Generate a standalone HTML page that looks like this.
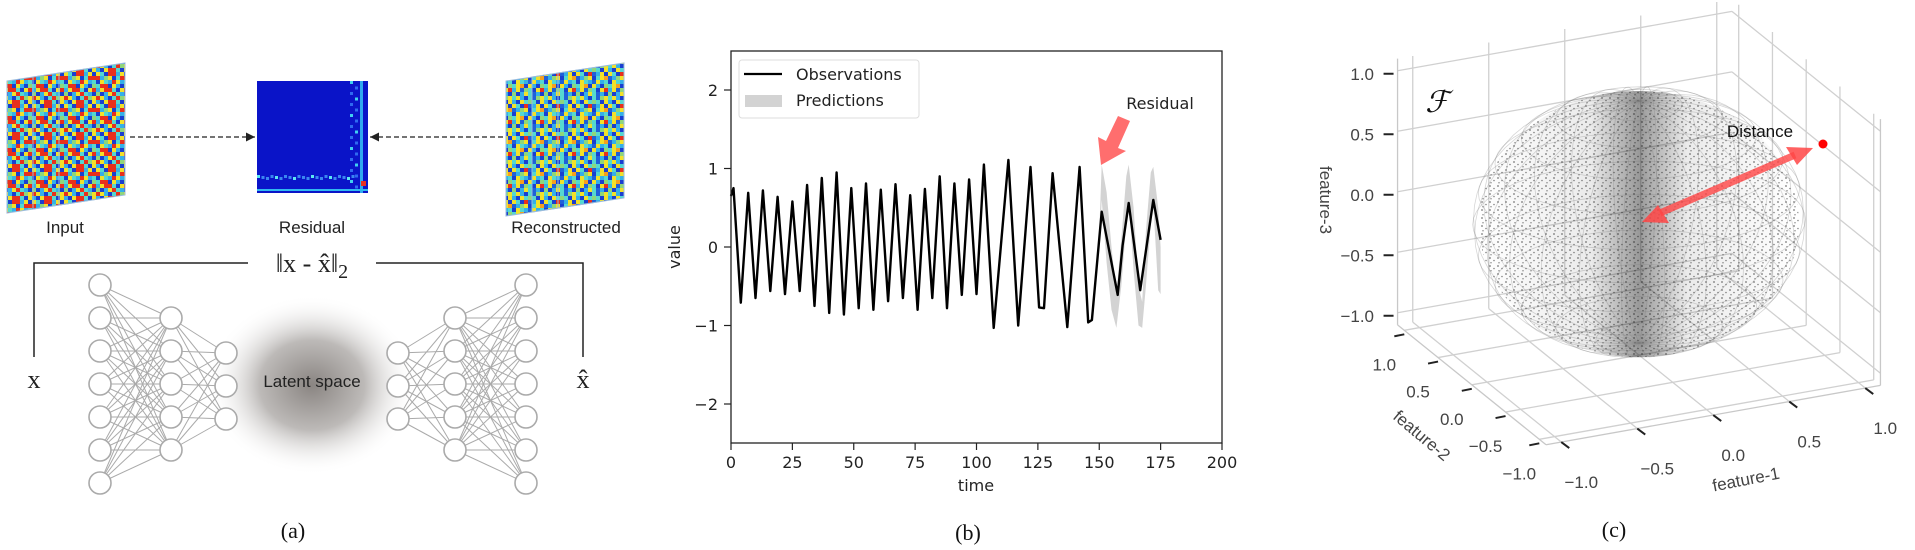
<!DOCTYPE html>
<html><head><meta charset="utf-8">
<style>
html,body{margin:0;padding:0;background:#fff;}
svg{display:block;}
text{font-family:"Liberation Sans","DejaVu Sans",sans-serif;}
.ser{font-family:"Liberation Serif","DejaVu Serif",serif;}
.mpl{font-family:"DejaVu Sans","Liberation Sans",sans-serif;}
</style></head>
<body>
<svg id="fig" width="1915" height="550" viewBox="0 0 1915 550" xmlns="http://www.w3.org/2000/svg">
<defs>
  <pattern id="jetA" width="32" height="32" patternUnits="userSpaceOnUse"><g id="jetAg"></g></pattern>
  <pattern id="jetB" width="32" height="32" patternUnits="userSpaceOnUse"><g id="jetBg"></g></pattern>
  <pattern id="resP" x="257" y="81" width="111" height="112" patternUnits="userSpaceOnUse"><g id="resPg"></g></pattern>
  <pattern id="dots" width="8" height="8" patternUnits="userSpaceOnUse">
    <circle cx="2" cy="2" r="0.9" fill="#222"/><circle cx="6" cy="4.5" r="0.8" fill="#333"/><circle cx="3" cy="6.8" r="0.7" fill="#222"/>
  </pattern>
  <radialGradient id="latentG" cx="50%" cy="50%" r="50%">
    <stop offset="0" stop-color="#8a8582"/><stop offset="0.5" stop-color="#bdbab8"/><stop offset="1" stop-color="#ffffff" stop-opacity="0"/>
  </radialGradient>
  <linearGradient id="bandG" x1="0" x2="1" y1="0" y2="0">
    <stop offset="0" stop-color="#000" stop-opacity="0"/>
    <stop offset="0.35" stop-color="#000" stop-opacity="0.08"/>
    <stop offset="0.5" stop-color="#000" stop-opacity="0.4"/>
    <stop offset="0.65" stop-color="#000" stop-opacity="0.08"/>
    <stop offset="1" stop-color="#000" stop-opacity="0"/>
  </linearGradient>
  <marker id="ah" viewBox="0 0 10 10" refX="10" refY="5" markerWidth="7" markerHeight="7" orient="auto"><path d="M0,0 L10,5 L0,10 z" fill="#222"/></marker>
</defs>

<!-- ================= PANEL A ================= -->
<g id="panelA">
  <g id="inputStack"></g>
  <rect x="257" y="81" width="111" height="112" fill="url(#resP)"/>
  <g id="reconStack"></g>
  <line x1="130" y1="137" x2="255" y2="137" stroke="#222" stroke-width="1.3" stroke-dasharray="5,3" marker-end="url(#ah)"/>
  <line x1="503" y1="137" x2="370" y2="137" stroke="#222" stroke-width="1.3" stroke-dasharray="5,3" marker-end="url(#ah)"/>
  <text x="65" y="233" font-size="17" text-anchor="middle" fill="#222">Input</text>
  <text x="312" y="233" font-size="17" text-anchor="middle" fill="#222">Residual</text>
  <text x="566" y="233" font-size="17" text-anchor="middle" fill="#222">Reconstructed</text>
  <path d="M34,357 L34,263 L248,263 M376,263 L583,263 L583,357" fill="none" stroke="#222" stroke-width="1.5"/>
  <text x="312" y="272" class="ser" font-size="26" text-anchor="middle" fill="#222">‖x - x̂‖<tspan font-size="20" dy="6">2</tspan></text>
  <text x="34" y="388" class="ser" font-size="26" text-anchor="middle" fill="#222">x</text>
  <text x="583" y="388" class="ser" font-size="26" text-anchor="middle" fill="#222">x̂</text>
  <ellipse cx="312" cy="385" rx="105" ry="90" fill="url(#latentG)"/>
  <g id="net"></g>
  <text x="312" y="387" font-size="17" text-anchor="middle" fill="#222">Latent space</text>
  <text x="293" y="538" class="ser" font-size="22" text-anchor="middle" fill="#111">(a)</text>
</g>

<!-- ================= PANEL B ================= -->
<g id="panelB">
  <g id="bBand"></g>
  <g id="bLine"></g>
  <rect x="731" y="51" width="491" height="392" fill="none" stroke="#222" stroke-width="1.3"/>
  <g id="bTicks"></g>
  <text x="0" y="0" transform="translate(680,247) rotate(-90)" class="mpl" font-size="16" text-anchor="middle" fill="#222">value</text>
  <text x="976" y="491" class="mpl" font-size="16" text-anchor="middle" fill="#222">time</text>
  <g>
    <rect x="739" y="60" width="180" height="58" rx="3" fill="#fff" fill-opacity="0.85" stroke="#ddd"/>
    <line x1="744" y1="74" x2="782" y2="74" stroke="#000" stroke-width="2.2"/>
    <text x="796" y="80" class="mpl" font-size="16" fill="#222">Observations</text>
    <rect x="745" y="95" width="37" height="12" fill="#d3d3d3"/>
    <text x="796" y="106" class="mpl" font-size="16" fill="#222">Predictions</text>
  </g>
  <text x="1160" y="109" class="mpl" font-size="16" text-anchor="middle" fill="#222">Residual</text>
  <path d="M1130,121 L1118,148 L1126,151 L1101,165 L1098,137 L1106,141 L1118,116 Z" fill="#ff5555" fill-opacity="0.85"/>
  <text x="968" y="540" class="ser" font-size="22" text-anchor="middle" fill="#111">(b)</text>
</g>

<!-- ================= PANEL C ================= -->
<g id="panelC">
  <g id="cGrid"></g>
  <ellipse cx="1639" cy="224" rx="160" ry="133" fill="url(#dots)" fill-opacity="0.6"/>
  <ellipse cx="1639" cy="224" rx="160" ry="133" fill="url(#bandG)"/>
  <g id="cSphere"></g>
  <g id="cTicks"></g>
  <text x="0" y="0" transform="translate(1320,200) rotate(90)" font-size="17" text-anchor="middle" fill="#444">feature-3</text>
  <text x="0" y="0" transform="translate(1418,440) rotate(40)" font-size="17" text-anchor="middle" fill="#444">feature-2</text>
  <text x="0" y="0" transform="translate(1747,485) rotate(-11)" font-size="17" text-anchor="middle" fill="#444">feature-1</text>
  <text x="1437" y="112" class="ser" font-size="30" font-style="italic" text-anchor="middle" fill="#111">ℱ</text>
  <text x="1760" y="137" font-size="17" text-anchor="middle" fill="#111">Distance</text>
  <g>
    <line x1="1660" y1="213" x2="1795" y2="155" stroke="#ff4545" stroke-opacity="0.8" stroke-width="7"/>
    <path d="M1813,148 L1786,147 L1797,165 Z" fill="#ff4545" fill-opacity="0.85"/>
    <path d="M1642,222 L1669,223 L1658,205 Z" fill="#ff4545" fill-opacity="0.85"/>
  </g>
  <circle cx="1823" cy="144" r="4.5" fill="#ff0000"/>
  <text x="1614" y="537" class="ser" font-size="22" text-anchor="middle" fill="#111">(c)</text>
</g>
</svg>

<script>
// ---------- Panel B data ----------
var obsTime = [0,1,4,7,10,13,16,19,22,25,28,31,34,37,40,43,46,49,52,55,58,61,64,67,70,73,76,79,82,85,88,91,94,97,100,103,107,113,117,122,125.5,127.5,131,137,142,145.5,147,151,157.5,159.5,162,166.7,172,175];
var obsValue = [0.65,0.75,-0.71,0.69,-0.65,0.72,-0.56,0.64,-0.6,0.58,-0.56,0.79,-0.75,0.88,-0.84,0.95,-0.86,0.75,-0.78,0.81,-0.8,0.73,-0.69,0.80,-0.65,0.66,-0.8,0.74,-0.65,0.90,-0.78,0.81,-0.61,0.86,-0.6,1.05,-1.03,1.11,-1.0,1.02,-0.77,-0.78,0.94,-1.02,1.02,-0.96,-0.93,0.45,-0.61,0.02,0.56,-0.55,0.6,0.09];
var predTime = [150,151,153,155,157,159,161,162,164,166,167.5,169,171,172,174,175];
var predUpper = [0.2,1.05,0.7,0.0,-0.6,0.1,0.9,1.05,0.5,-0.5,-0.7,0.2,0.95,1.02,0.5,0.0];
var predLower = [-0.1,0.6,-0.2,-0.8,-1.03,-0.5,0.3,0.6,-0.3,-1.0,-1.03,-0.5,0.3,0.55,-0.55,-0.6];
var xTicks = [0,25,50,75,100,125,150,175,200];
var yTicks = [-2,-1,0,1,2];
var yTickLabels = ["\u22122","\u22121","0","1","2"];
// ---------- Panel C tick data ----------
var f1Ticks = [-1,-0.5,0,0.5,1];
var f1Labels = ["\u22121.0","\u22120.5","0.0","0.5","1.0"];
var f2Ticks = [1,0.5,0,-0.5,-1];
var f2Labels = ["1.0","0.5","0.0","\u22120.5","\u22121.0"];
var f3Ticks = [1,0.5,0,-0.5,-1];
var f3Labels = ["1.0","0.5","0.0","\u22120.5","\u22121.0"];

var NS = "http://www.w3.org/2000/svg";
function mk(tag, attrs, parent){
  var e = document.createElementNS(NS, tag);
  for (var k in attrs) e.setAttribute(k, attrs[k]);
  parent.appendChild(e);
  return e;
}

function xS(t){ return 731 + (t - 0) / 200 * 491; }
function yS(v){ return 247 - v * 78.5; }

(function(){
  var band = document.getElementById('bBand');
  var d = "";
  for (var i=0;i<predTime.length;i++) d += (i?"L":"M") + xS(predTime[i]).toFixed(1) + "," + yS(predUpper[i]).toFixed(1);
  for (var j=predTime.length-1;j>=0;j--) d += "L" + xS(predTime[j]).toFixed(1) + "," + yS(predLower[j]).toFixed(1);
  d += "Z";
  var p = mk('path', {d:d, fill:'#d3d3d3'}, band);
  
  

  var pts = [];
  for (var k=0;k<obsTime.length;k++) pts.push(xS(obsTime[k]).toFixed(1)+","+yS(obsValue[k]).toFixed(1));
  var l = mk('polyline', {points:pts.join(" "), fill:'none', stroke:'#000', 'stroke-width':2.4, 'stroke-linejoin':'round'}, document.getElementById('bLine'));
  
  

  var tg = document.getElementById('bTicks');
  xTicks.forEach(function(t){
    var x = xS(t);
    mk('line', {x1:x, y1:443, x2:x, y2:450, stroke:'#222', 'stroke-width':1.2}, tg);
    var tx = mk('text', {x:x, y:468, 'font-size':16, 'text-anchor':'middle', fill:'#222', 'class':'mpl'}, tg);
    tx.textContent = t;
    
    
  });
  yTicks.forEach(function(v, i){
    var y = yS(v);
    mk('line', {x1:724, y1:y, x2:731, y2:y, stroke:'#222', 'stroke-width':1.2}, tg);
    var tx = mk('text', {x:718, y:y+6, 'font-size':16, 'text-anchor':'end', fill:'#222', 'class':'mpl'}, tg);
    tx.textContent = yTickLabels[i];
    
    
  });
})();

// ---- Panel A textures & network ----
(function(){
  var jet = {b:'#1a3fd0', c:'#35b0e8', t:'#55d8d0', g:'#8fd67a', y:'#f2e12a', o:'#f5a01f', r:'#e8301c', d:'#2060d8'};
  var gridA = ["rycbtrgy","cbyrrtby","ytbrrcyb","rcgybtrr","bytcryct","trrbycbg","cyrrtbyr","gbcyrtcb"];
  var gridB = ["tycbtdgy","cbytgtby","ytbrdcyb","dcgybtyo","bytcdyct","tyobycbg","cydgtbyr","gbcytdcb"];
  function fill(id, grid){
    var g = document.getElementById(id);
    for (var r=0;r<8;r++) for (var c=0;c<8;c++)
      mk('rect',{x:c*4,y:r*4,width:4,height:4,fill:jet[grid[r][c]]}, g);
  }
  fill('jetAg', gridA); fill('jetBg', gridB);
  var rg = document.getElementById('resPg');
  mk('rect',{x:0,y:0,width:111,height:112,fill:'#0a14c8'}, rg);
  for (var i=0;i<22;i++){ mk('rect',{x:i*4.5,y:94+(i%3),width:3,height:3,fill:i%4? '#3a86f0':'#5ce8f0'}, rg); }
  for (var j=0;j<20;j++){ mk('rect',{x:93+(j%2)*5,y:j*5.5,width:3,height:3,fill:j%3?'#2f6af0':'#40d0f0'}, rg); }
  mk('rect',{x:103,y:0,width:3,height:112,fill:'#30a8f0'}, rg);
  mk('rect',{x:0,y:108,width:111,height:2,fill:'#30b8f0'}, rg);
  mk('rect',{x:104,y:100,width:5,height:5,fill:'#e83020'}, rg);

  function stack(id, x0, y0, w, h, pat){
    var g = document.getElementById(id);
    for (var s=0;s<3;s++){
      var x = x0 + s*26, y = y0 + (2-s)*4;
      var sh = mk('path',{d:"M"+x+","+(y+10)+" L"+(x+w)+","+y+" L"+(x+w)+","+(y+h-10)+" L"+x+","+(y+h)+" Z", fill:'url(#'+pat+')', stroke:'#9bd','stroke-width':1}, g);
      
      
    }
  }
  stack('inputStack', 7, 63, 66, 142, 'jetA');
  stack('reconStack', 506, 63, 66, 145, 'jetB');

  var net = document.getElementById('net');
  var layers = [
    {x:100, ys:[285,318,351,384,417,450,483]},
    {x:171, ys:[318,351,384,417,450]},
    {x:226, ys:[353,386,419]},
    {x:398, ys:[353,386,419]},
    {x:455, ys:[318,351,384,417,450]},
    {x:526, ys:[285,318,351,384,417,450,483]}
  ];
  var pairs = [[0,1],[1,2],[3,4],[4,5]];
  pairs.forEach(function(pr){
    var A = layers[pr[0]], B = layers[pr[1]];
    A.ys.forEach(function(ya){ B.ys.forEach(function(yb){
      mk('line',{x1:A.x,y1:ya,x2:B.x,y2:yb,stroke:'#aaa','stroke-width':1}, net);
    });});
  });
  layers.forEach(function(L){
    L.ys.forEach(function(y){
      var c = mk('circle',{cx:L.x,cy:y,r:11,fill:'#fff',stroke:'#aaa','stroke-width':1.6}, net);
      
      
    });
  });
})();

// ---- Panel C projection ----
var LIM = 1.1;
function P(x1, x2, x3){ return [1639 + 152*x1 - 67.5*x2, 222 - 27*x1 - 54.5*x2 - 121*x3]; }
(function(){
  var g = document.getElementById('cGrid');
  function seg(a, b, col, w){
    var p = P(a[0],a[1],a[2]), q = P(b[0],b[1],b[2]);
    mk('line',{x1:p[0],y1:p[1],x2:q[0],y2:q[1],stroke:col||'#d0d0d0','stroke-width':w||1.3}, g);
  }
  var L = LIM;
  f1Ticks.forEach(function(v){ seg([v,L,-L],[v,L,L]); });
  f3Ticks.forEach(function(v){ seg([-L,L,v],[L,L,v]); });
  f2Ticks.forEach(function(v){ seg([L,v,-L],[L,v,L]); });
  f3Ticks.forEach(function(v){ seg([L,-L,v],[L,L,v]); });
  f1Ticks.forEach(function(v){ seg([v,-L,-L],[v,L,-L]); });
  f2Ticks.forEach(function(v){ seg([-L,v,-L],[L,v,-L]); });
  seg([-L,L,-L],[-L,L,L],'#c8c8c8'); seg([L,-L,-L],[L,-L,L],'#c8c8c8');
  seg([-L,-L,-L],[L,-L,-L],'#c8c8c8'); seg([-L,-L,-L],[-L,L,-L],'#c8c8c8');

  var sg = document.getElementById('cSphere');
  function poly(ptsArr){
    var s = ptsArr.map(function(p){return p[0].toFixed(1)+","+p[1].toFixed(1);}).join(" ");
    mk('polyline',{points:s,fill:'none',stroke:'#777','stroke-opacity':0.3,'stroke-width':0.8}, sg);
  }
  for (var la=-75; la<=75; la+=15){
    var arr=[], phi=la*Math.PI/180;
    for (var a=0;a<=360;a+=6){ var th=a*Math.PI/180; arr.push(P(Math.cos(phi)*Math.cos(th),Math.cos(phi)*Math.sin(th),Math.sin(phi))); }
    poly(arr);
  }
  for (var lo=0; lo<180; lo+=15){
    var arr2=[], th2=lo*Math.PI/180;
    for (var b=0;b<=360;b+=6){ var ph=b*Math.PI/180; arr2.push(P(Math.cos(ph)*Math.cos(th2),Math.cos(ph)*Math.sin(th2),Math.sin(ph))); }
    poly(arr2);
  }

  var tg = document.getElementById('cTicks');
  f1Ticks.forEach(function(v,i){
    var p = P(v,-L,-L);
    mk('line',{x1:p[0],y1:p[1],x2:p[0]+8,y2:p[1]+6,stroke:'#222','stroke-width':2}, tg);
    var t = mk('text',{x:p[0]+20,y:p[1]+46,'font-size':17,'text-anchor':'middle',fill:'#444'}, tg);
    t.textContent = f1Labels[i];
    
    
  });
  f2Ticks.forEach(function(v,i){
    var p = P(-L,v,-L);
    mk('line',{x1:p[0],y1:p[1]+4,x2:p[0]-10,y2:p[1]+6,stroke:'#222','stroke-width':2}, tg);
    var t = mk('text',{x:p[0]-20,y:p[1]+40,'font-size':17,'text-anchor':'middle',fill:'#444'}, tg);
    t.textContent = f2Labels[i];
    
    
  });
  f3Ticks.forEach(function(v,i){
    var p = P(-L,L,v);
    mk('line',{x1:p[0]-14,y1:p[1]+3,x2:p[0]-4,y2:p[1]+3,stroke:'#222','stroke-width':2}, tg);
    var t = mk('text',{x:1374,y:p[1]+9,'font-size':17,'text-anchor':'end',fill:'#444'}, tg);
    t.textContent = f3Labels[i];
    
    
  });
})();
</script>
</body></html>
